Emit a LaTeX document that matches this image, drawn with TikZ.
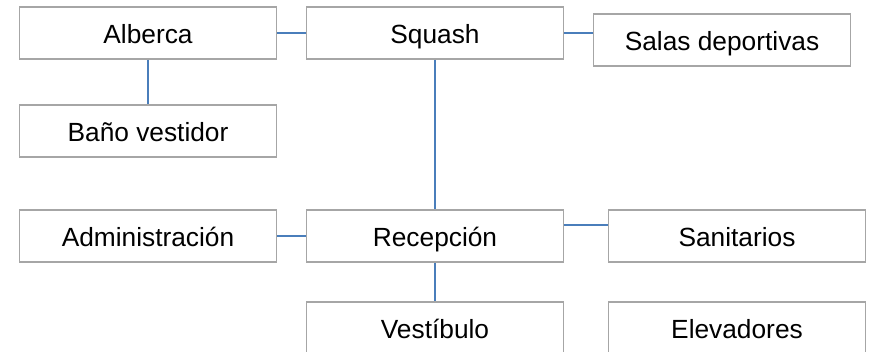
\documentclass[tikz,border=0pt]{standalone}
\usepackage{fontspec}
\setmainfont{Liberation Sans}
\definecolor{boxgray}{HTML}{A6A6A6}
\definecolor{linkblue}{HTML}{4A7EBB}
\begin{document}
\begin{tikzpicture}[x=1bp,y=-1bp,
  area/.style={draw=boxgray,line width=1.4bp,fill=white,rectangle,
    minimum width=257bp,minimum height=52bp,inner sep=0pt,
    text height=20bp,text depth=0pt,
    font=\fontsize{26.3bp}{30bp}\selectfont},
  link/.style={draw=linkblue,line width=1.5bp}]
\useasboundingbox (0,0) rectangle (869,351);
\clip (0,0) rectangle (869,351);
% upper row
\node[area] (alb) at (148,33) {Alberca};
\node[area] (sq)  at (435,33) {Squash};
\node[area] (sal) at (722,40) {Salas deportivas};
\node[area] (bano) at (148,131) {Baño vestidor};
% lower rows
\node[area] (adm) at (148,236) {Administración};
\node[area] (rec) at (435,236) {Recepción};
\node[area] (san) at (737,236) {Sanitarios};
\node[area] (ves) at (435,328) {Vestíbulo};
\node[area] (ele) at (737,328) {Elevadores};
% connectors
\draw[link] (alb) -- (sq);
\draw[link] (sq.east) -- (sq.east -| sal.west);
\draw[link] (alb) -- (bano);
\draw[link] (sq) -- (rec);
\draw[link] (adm) -- (rec);
\draw[link] ([yshift=11bp]rec.east) -- ([yshift=11bp]san.west);
\draw[link] (rec) -- (ves);
\end{tikzpicture}
\end{document}
